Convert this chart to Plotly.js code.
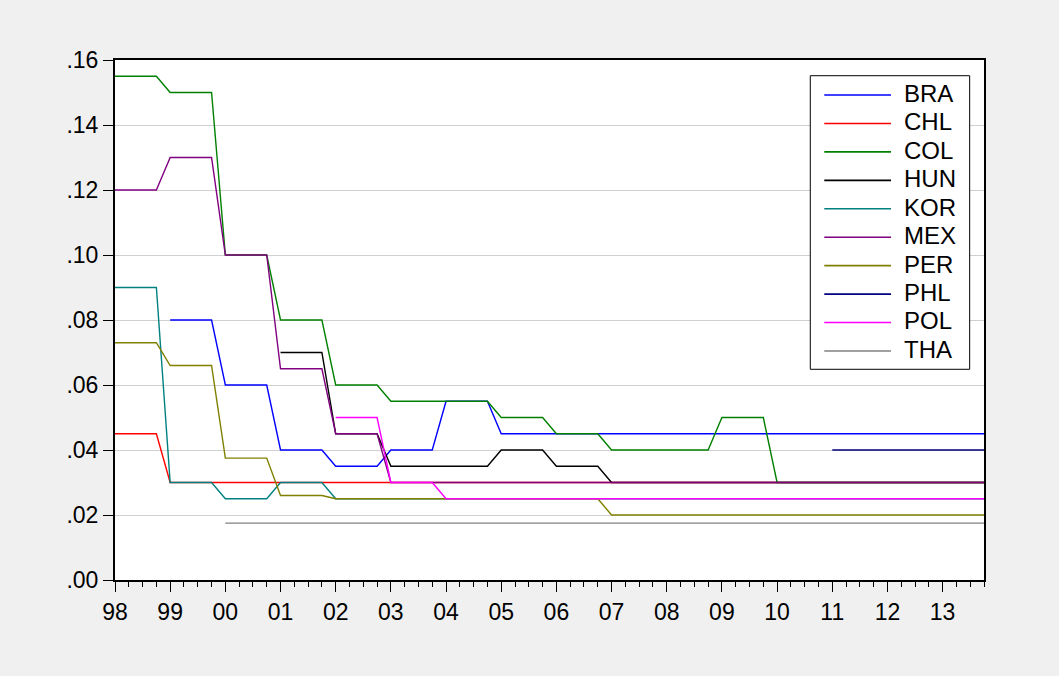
<!DOCTYPE html>
<html>
<head>
<meta charset="utf-8">
<script src="https://cdn.plot.ly/plotly-3.0.1.min.js"></script>
<style>
  html, body { margin: 0; padding: 0; background: #F0F0F0; }
  #chart { width: 1059px; height: 676px; }
</style>
</head>
<body>
<div id="chart"></div>
<script>
// Quarterly periods 1998Q1 .. 2013Q4 (x positions as year + quarter fraction)
const startYear = 1998;
const endYear = 2013;
const yearTickLabels = ['98','99','00','01','02','03','04','05','06','07','08','09','10','11','12','13'];
const yTickValues = [0, 0.02, 0.04, 0.06, 0.08, 0.10, 0.12, 0.14, 0.16];
const yTickLabels = ['.00','.02','.04','.06','.08','.10','.12','.14','.16'];

const seriesNames = ['BRA','CHL','COL','HUN','KOR','MEX','PER','PHL','POL','THA'];
const seriesColors = ['#0000FF','#FF0000','#008000','#000000','#008080','#800080','#808000','#000080','#FF00FF','#808080'];

// Values, one per quarter (two years per row)
const BRA = [
  null,null,null,null, 0.08,0.08,0.08,0.08,
  0.06,0.06,0.06,0.06, 0.04,0.04,0.04,0.04,
  0.035,0.035,0.035,0.035, 0.04,0.04,0.04,0.04,
  0.055,0.055,0.055,0.055, 0.045,0.045,0.045,0.045,
  0.045,0.045,0.045,0.045, 0.045,0.045,0.045,0.045,
  0.045,0.045,0.045,0.045, 0.045,0.045,0.045,0.045,
  0.045,0.045,0.045,0.045, 0.045,0.045,0.045,0.045,
  0.045,0.045,0.045,0.045, 0.045,0.045,0.045,0.045
];
const CHL = [
  0.045,0.045,0.045,0.045, 0.03,0.03,0.03,0.03,
  0.03,0.03,0.03,0.03, 0.03,0.03,0.03,0.03,
  0.03,0.03,0.03,0.03, 0.03,0.03,0.03,0.03,
  0.03,0.03,0.03,0.03, 0.03,0.03,0.03,0.03,
  0.03,0.03,0.03,0.03, 0.03,0.03,0.03,0.03,
  0.03,0.03,0.03,0.03, 0.03,0.03,0.03,0.03,
  0.03,0.03,0.03,0.03, 0.03,0.03,0.03,0.03,
  0.03,0.03,0.03,0.03, 0.03,0.03,0.03,0.03
];
const COL = [
  0.155,0.155,0.155,0.155, 0.15,0.15,0.15,0.15,
  0.10,0.10,0.10,0.10, 0.08,0.08,0.08,0.08,
  0.06,0.06,0.06,0.06, 0.055,0.055,0.055,0.055,
  0.055,0.055,0.055,0.055, 0.05,0.05,0.05,0.05,
  0.045,0.045,0.045,0.045, 0.04,0.04,0.04,0.04,
  0.04,0.04,0.04,0.04, 0.05,0.05,0.05,0.05,
  0.03,0.03,0.03,0.03, 0.03,0.03,0.03,0.03,
  0.03,0.03,0.03,0.03, 0.03,0.03,0.03,0.03
];
const HUN = [
  null,null,null,null, null,null,null,null,
  null,null,null,null, 0.07,0.07,0.07,0.07,
  0.045,0.045,0.045,0.045, 0.035,0.035,0.035,0.035,
  0.035,0.035,0.035,0.035, 0.04,0.04,0.04,0.04,
  0.035,0.035,0.035,0.035, 0.03,0.03,0.03,0.03,
  0.03,0.03,0.03,0.03, 0.03,0.03,0.03,0.03,
  0.03,0.03,0.03,0.03, 0.03,0.03,0.03,0.03,
  0.03,0.03,0.03,0.03, 0.03,0.03,0.03,0.03
];
const KOR = [
  0.09,0.09,0.09,0.09, 0.03,0.03,0.03,0.03,
  0.025,0.025,0.025,0.025, 0.03,0.03,0.03,0.03,
  0.025,0.025,0.025,0.025, 0.025,0.025,0.025,0.025,
  0.025,0.025,0.025,0.025, 0.025,0.025,0.025,0.025,
  0.025,0.025,0.025,0.025, 0.025,0.025,0.025,0.025,
  0.025,0.025,0.025,0.025, 0.025,0.025,0.025,0.025,
  0.025,0.025,0.025,0.025, 0.025,0.025,0.025,0.025,
  0.025,0.025,0.025,0.025, 0.025,0.025,0.025,0.025
];
const MEX = [
  0.12,0.12,0.12,0.12, 0.13,0.13,0.13,0.13,
  0.10,0.10,0.10,0.10, 0.065,0.065,0.065,0.065,
  0.045,0.045,0.045,0.045, 0.03,0.03,0.03,0.03,
  0.03,0.03,0.03,0.03, 0.03,0.03,0.03,0.03,
  0.03,0.03,0.03,0.03, 0.03,0.03,0.03,0.03,
  0.03,0.03,0.03,0.03, 0.03,0.03,0.03,0.03,
  0.03,0.03,0.03,0.03, 0.03,0.03,0.03,0.03,
  0.03,0.03,0.03,0.03, 0.03,0.03,0.03,0.03
];
const PER = [
  0.073,0.073,0.073,0.073, 0.066,0.066,0.066,0.066,
  0.0375,0.0375,0.0375,0.0375, 0.026,0.026,0.026,0.026,
  0.025,0.025,0.025,0.025, 0.025,0.025,0.025,0.025,
  0.025,0.025,0.025,0.025, 0.025,0.025,0.025,0.025,
  0.025,0.025,0.025,0.025, 0.02,0.02,0.02,0.02,
  0.02,0.02,0.02,0.02, 0.02,0.02,0.02,0.02,
  0.02,0.02,0.02,0.02, 0.02,0.02,0.02,0.02,
  0.02,0.02,0.02,0.02, 0.02,0.02,0.02,0.02
];
const PHL = [
  null,null,null,null, null,null,null,null,
  null,null,null,null, null,null,null,null,
  null,null,null,null, null,null,null,null,
  null,null,null,null, null,null,null,null,
  null,null,null,null, null,null,null,null,
  null,null,null,null, null,null,null,null,
  null,null,null,null, 0.04,0.04,0.04,0.04,
  0.04,0.04,0.04,0.04, 0.04,0.04,0.04,0.04
];
const POL = [
  null,null,null,null, null,null,null,null,
  null,null,null,null, null,null,null,null,
  0.05,0.05,0.05,0.05, 0.03,0.03,0.03,0.03,
  0.025,0.025,0.025,0.025, 0.025,0.025,0.025,0.025,
  0.025,0.025,0.025,0.025, 0.025,0.025,0.025,0.025,
  0.025,0.025,0.025,0.025, 0.025,0.025,0.025,0.025,
  0.025,0.025,0.025,0.025, 0.025,0.025,0.025,0.025,
  0.025,0.025,0.025,0.025, 0.025,0.025,0.025,0.025
];
const THA = [
  null,null,null,null, null,null,null,null,
  0.0175,0.0175,0.0175,0.0175, 0.0175,0.0175,0.0175,0.0175,
  0.0175,0.0175,0.0175,0.0175, 0.0175,0.0175,0.0175,0.0175,
  0.0175,0.0175,0.0175,0.0175, 0.0175,0.0175,0.0175,0.0175,
  0.0175,0.0175,0.0175,0.0175, 0.0175,0.0175,0.0175,0.0175,
  0.0175,0.0175,0.0175,0.0175, 0.0175,0.0175,0.0175,0.0175,
  0.0175,0.0175,0.0175,0.0175, 0.0175,0.0175,0.0175,0.0175,
  0.0175,0.0175,0.0175,0.0175, 0.0175,0.0175,0.0175,0.0175
];

const seriesValues = [BRA, CHL, COL, HUN, KOR, MEX, PER, PHL, POL, THA];

const quarters = [];
for (let y = startYear; y <= endYear; y++) {
  for (let q = 0; q < 4; q++) quarters.push(y + q / 4);
}
const yearTicks = [];
for (let y = startYear; y <= endYear; y++) yearTicks.push(y);

const FONT = 'Liberation Sans, Arial, Helvetica, sans-serif';

const traces = seriesNames.map((name, i) => ({
  type: 'scatter',
  mode: 'lines',
  name: name,
  x: quarters,
  y: seriesValues[i],
  connectgaps: false,
  line: { color: seriesColors[i], width: 1.4 },
  hoverinfo: 'x+y+name'
}));

// Legend box (EViews style), placed in paper coordinates
const legendBox = { x0: 0.8001, x1: 0.9835, y0: 0.4052, y1: 0.9698 };
const legendRowTop = 0.9327;     // first row's line position
const legendRowStep = 0.0547;    // spacing between rows
const legendLineX = [0.8162, 0.8930];
const legendTextX = 0.9060;

const shapes = [{
  type: 'rect', xref: 'paper', yref: 'paper',
  x0: legendBox.x0, x1: legendBox.x1, y0: legendBox.y0, y1: legendBox.y1,
  fillcolor: '#FFFFFF', line: { color: '#000000', width: 1 }, layer: 'above'
}];
const annotations = [];
seriesNames.forEach((name, i) => {
  const yy = legendRowTop - i * legendRowStep;
  shapes.push({
    type: 'line', xref: 'paper', yref: 'paper',
    x0: legendLineX[0], x1: legendLineX[1], y0: yy, y1: yy,
    line: { color: seriesColors[i], width: 1.6 }, layer: 'above'
  });
  annotations.push({
    xref: 'paper', yref: 'paper', x: legendTextX, y: yy + 0.003,
    xanchor: 'left', yanchor: 'middle', showarrow: false,
    text: name, font: { family: FONT, size: 24, color: '#000000' }
  });
});

const layout = {
  width: 1059,
  height: 676,
  paper_bgcolor: '#F0F0F0',
  plot_bgcolor: '#FFFFFF',
  margin: { l: 115, r: 75, t: 60, b: 96, pad: 0 },
  font: { family: FONT, color: '#000000', size: 23 },
  showlegend: false,
  shapes: shapes,
  annotations: annotations,
  xaxis: {
    range: [startYear, endYear + 0.75],
    tickmode: 'array',
    tickvals: yearTicks,
    ticktext: yearTickLabels,
    ticks: 'outside', ticklen: 10, tickwidth: 1, tickcolor: '#000000',
    minor: { tickmode: 'linear', tick0: startYear, dtick: 0.25, ticks: 'outside', ticklen: 5, tickwidth: 1, tickcolor: '#000000', showgrid: false },
    showline: true, linecolor: '#000000', linewidth: 2, mirror: true,
    showgrid: false, zeroline: false,
    tickfont: { family: FONT, size: 23, color: '#000000' }
  },
  yaxis: {
    range: [0, 0.16],
    tickmode: 'array',
    tickvals: yTickValues,
    ticktext: yTickLabels,
    ticks: 'outside', ticklen: 10, tickwidth: 1, tickcolor: '#000000',
    showline: true, linecolor: '#000000', linewidth: 2, mirror: true,
    showgrid: true, gridcolor: '#D0D0D0', gridwidth: 1, zeroline: false,
    tickfont: { family: FONT, size: 23, color: '#000000' }
  }
};

Plotly.newPlot('chart', traces, layout, { displayModeBar: false, staticPlot: true });
</script>
</body>
</html>
